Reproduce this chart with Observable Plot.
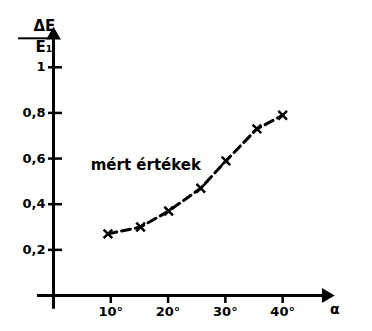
<!DOCTYPE html>
<html>
<head>
<meta charset="utf-8">
<script src="https://cdn.jsdelivr.net/npm/d3@7"></script>
<script src="https://cdn.jsdelivr.net/npm/@observablehq/plot@0.6"></script>
<style>
  html, body { margin: 0; padding: 0; background: #fff; }
  svg { display: block; }
</style>
</head>
<body>
<div id="chart"></div>
<script>
// measured values (angle α in degrees, ratio ΔE/E1)
const alpha = [9.5, 15.2, 20.1, 25.7, 30.1, 35.5, 40];
const ratio = [0.27, 0.30, 0.37, 0.47, 0.59, 0.73, 0.79];
const xTicks = [10, 20, 30, 40];
const yTicks = [0.2, 0.4, 0.6, 0.8, 1];
const annotationText = ["mért értékek"];
const annotationX = [6.5];
const annotationY = [0.57];
const xLabel = "α";
const yLabelTop = "ΔE";
const yLabelBottom = "E₁";

const points = alpha.map((a, i) => ({alpha: a, ratio: ratio[i]}));
const ink = "#000";
const font = "DejaVu Sans, sans-serif";

const chart = Plot.plot({
  width: 372,
  height: 331,
  marginLeft: 53,
  marginRight: 40,
  marginTop: 28,
  marginBottom: 36,
  style: {fontFamily: font, fontWeight: "bold", color: ink, background: "#fff"},
  x: {domain: [0, 48.7]},
  y: {domain: [0, 1.17]},
  marks: [
    // axes lines
    Plot.ruleY([0], {x1: -2.8, x2: 47, stroke: ink, strokeWidth: 3}),
    Plot.ruleX([0], {y1: -0.06, y2: 1.13, stroke: ink, strokeWidth: 3}),
    Plot.dot([0], {x: 47.6, y: 0, symbol: "triangle", r: 5.5, fill: ink, rotate: 90}),
    Plot.dot([0], {x: 0, y: 1.14, symbol: "triangle", r: 5.5, fill: ink}),
    // ticks & labels
    Plot.axisX({ticks: xTicks, tickSize: 8, tickPadding: 3, tickFormat: d => d + "°",
      fontSize: 13, fontWeight: "bold", strokeWidth: 2.5, label: null}),
    Plot.axisY({ticks: yTicks, tickSize: 14, tickPadding: 3, dx: 9,
      tickFormat: d => d === 1 ? "1" : d.toFixed(1).replace(".", ","),
      fontSize: 13, fontWeight: "bold", strokeWidth: 2.5, label: null}),
    // axis labels
    Plot.text([xLabel], {frameAnchor: "bottom-right", dx: 7, dy: 14, fontSize: 14, fontWeight: "bold", lineAnchor: "middle"}),
    Plot.text([yLabelTop], {frameAnchor: "top-left", dx: -20, dy: -2, fontSize: 15, fontWeight: "bold", lineAnchor: "middle"}),
    Plot.ruleY([1.127], {x1: -6.1, x2: -0.6, stroke: ink, strokeWidth: 2}),
    Plot.text([yLabelBottom], {frameAnchor: "top-left", dx: -18, dy: 19, fontSize: 15, fontWeight: "bold", lineAnchor: "middle"}),
    // data
    Plot.line(points, {x: "alpha", y: "ratio", stroke: ink, strokeWidth: 3, strokeDasharray: "9,5"}),
    Plot.dot(points, {x: "alpha", y: "ratio", symbol: "times", r: 4, stroke: ink, strokeWidth: 2.5}),
    // annotation
    Plot.text(annotationText, {x: annotationX, y: annotationY, textAnchor: "start", fontSize: 15, fontWeight: "bold"})
  ]
});
document.getElementById("chart").appendChild(chart);
</script>
</body>
</html>
